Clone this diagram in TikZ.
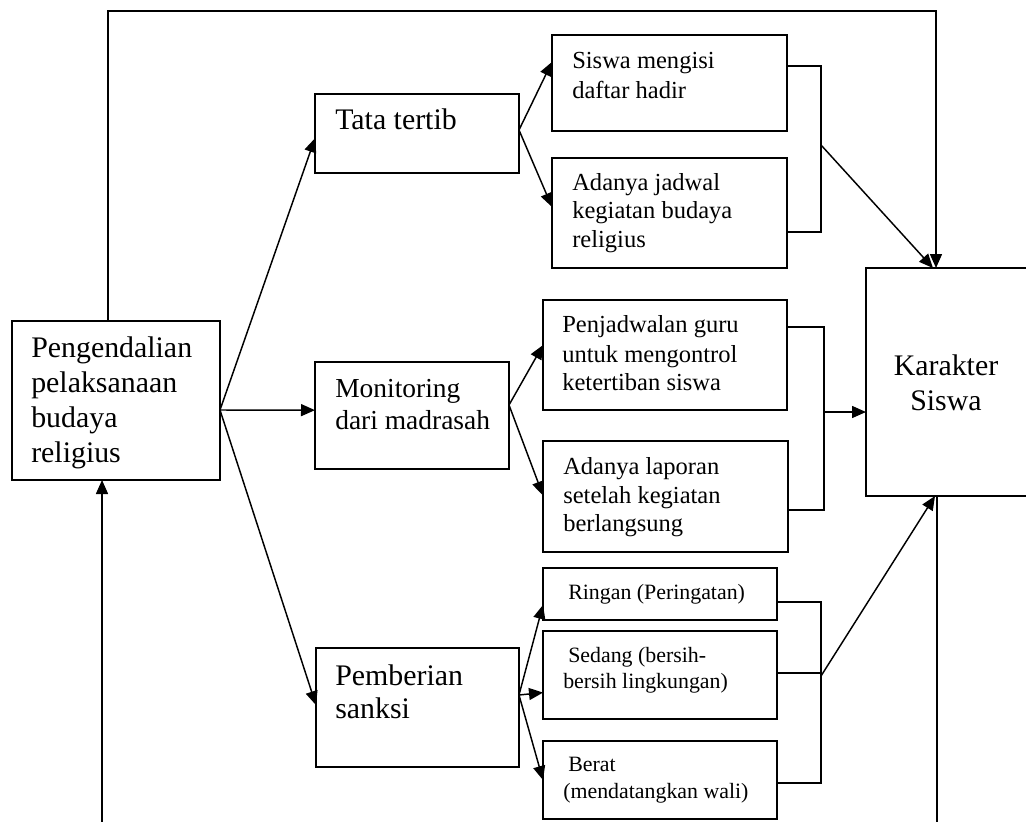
\documentclass[tikz,border=0pt]{standalone}
\usepackage{fontspec}
\setmainfont{Liberation Serif}
\usetikzlibrary{arrows.meta,calc}
\newcommand\mybox[5]{\node[box, minimum width={(#4-#2)*0.75pt}, minimum height={(#5-#3)*0.75pt}] (#1) at ({(#2+#4)/2},{(#3+#5)/2}) {};}
\begin{document}
\begin{tikzpicture}[x=0.75pt,y=-0.75pt,
 box/.style={draw, line width=1.3pt, inner sep=0, outer sep=0},
 ln/.style={line width=1.2pt},
 arr/.style={line width=1.1pt, -{Triangle[length=10.5pt,width=9pt]}},
 tb/.style={font=\fontsize{22.4}{26}\selectfont, anchor=base west, inner sep=0},
 tmid/.style={font=\fontsize{20.6}{24}\selectfont, anchor=base west, inner sep=0},
 tm/.style={font=\fontsize{18.4}{22}\selectfont, anchor=base west, inner sep=0},
 ts/.style={font=\fontsize{16.4}{20}\selectfont, anchor=base west, inner sep=0}]
\useasboundingbox (0,0) rectangle (1026,822);
% boxes
\mybox{L}{12}{321}{220}{480}
\mybox{T}{315}{94}{519}{173}
\mybox{M}{315}{362}{509}{469}
\mybox{P}{316}{648}{519}{767}
\mybox{S1}{552}{35}{787}{131}
\mybox{S2}{552}{158}{787}{268}
\mybox{Q1}{543}{300}{787}{410}
\mybox{Q2}{543}{441}{788}{552}
\mybox{R1}{543}{568}{777}{620}
\mybox{R2}{543}{631}{777}{719}
\mybox{R3}{543}{741}{777}{819}
\mybox{K}{866}{268}{1027}{496}
% texts
\node[tb] (tL1) at (31,357) {Pengendalian};
\node[tb] (tL2) at (31,392) {pelaksanaan};
\node[tb] (tL3) at (31,427) {budaya};
\node[tb] (tL4) at (31,462) {religius};
\node[tb] (tT1) at (335,129) {Tata tertib};
\node[tmid] (tM1) at (335,397) {Monitoring};
\node[tmid] (tM2) at (335,429) {dari madrasah};
\node[tb] (tP1) at (335,685) {Pemberian};
\node[tb] (tP2) at (335,718) {sanksi};
\node[tb, anchor=base] (tK1) at (946,375) {Karakter};
\node[tb, anchor=base] (tK2) at (946,410) {Siswa};
\node[tm] (tS11) at (572,68) {Siswa mengisi};
\node[tm] (tS12) at (572,98) {daftar hadir};
\node[tm] (tS21) at (572,190) {Adanya jadwal};
\node[tm] (tS22) at (572,218) {kegiatan budaya};
\node[tm] (tS23) at (572,247) {religius};
\node[tm] (tQ11) at (562,332) {Penjadwalan guru};
\node[tm] (tQ12) at (562,362) {untuk mengontrol};
\node[tm] (tQ13) at (562,390) {ketertiban siswa};
\node[tm] (tQ21) at (563,474) {Adanya laporan};
\node[tm] (tQ22) at (563,503) {setelah kegiatan};
\node[tm] (tQ23) at (563,531) {berlangsung};
\node[ts] (tR11) at (568,599) {Ringan (Peringatan)};
\node[ts] (tR21) at (568,662) {Sedang (bersih-};
\node[ts] (tR22) at (563,688) {bersih lingkungan)};
\node[ts] (tR31) at (568,771) {Berat};
\node[ts] (tR32) at (563,798) {(mendatangkan wali)};
% outer loop
\coordinate (c1) at (108,11);
\coordinate (c2) at (936,11);
\draw[arr] (L.north -| c1) -- (c1) -- (c2) -- (K.north -| c2);
\coordinate (b1) at (102,822);
\draw[arr] (b1) -- (L.south -| b1);
\coordinate (b2) at (937,822);
\draw[ln] (K.south -| b2) -- (b2);
% fan from L
\coordinate (fL) at (220,410);
\draw[arr] (fL) -- ($(T.north west)!0.56!(T.south west)$);
\draw[arr] (fL) -- ($(M.north west)!0.45!(M.south west)$);
\draw[arr] (fL) -- ($(P.north west)!0.48!(P.south west)$);
% Tata tertib group
\coordinate (fT) at (519,130);
\draw[arr] (fT) -- ($(S1.north west)!0.28!(S1.south west)$);
\draw[arr] (fT) -- ($(S2.north west)!0.445!(S2.south west)$);
\coordinate (s1e) at ($(S1.north east)!0.32!(S1.south east)$);
\coordinate (s2e) at ($(S2.north east)!0.67!(S2.south east)$);
\coordinate (xS) at (821,0);
\draw[ln] (s1e) -- (s1e -| xS) -- (s2e -| xS) -- (s2e);
\coordinate (jS) at (821,145);
\draw[arr] (jS) -- ($(K.north -| c2)+(-3,0)$);
% Monitoring group
\coordinate (fM) at (509,405);
\draw[arr] (fM) -- ($(Q1.north west)!0.41!(Q1.south west)$);
\draw[arr] (fM) -- ($(Q2.north west)!0.49!(Q2.south west)$);
\coordinate (q1e) at ($(Q1.north east)!0.245!(Q1.south east)$);
\coordinate (q2e) at ($(Q2.north east)!0.62!(Q2.south east)$);
\coordinate (xQ) at (824,0);
\draw[ln] (q1e) -- (q1e -| xQ) -- (q2e -| xQ) -- (q2e);
\coordinate (jQ) at (824,412);
\draw[arr] (jQ) -- (K.west |- jQ);
% Sanksi group
\coordinate (fP) at (519,695);
\draw[arr] (fP) -- ($(R1.north west)!0.71!(R1.south west)$);
\draw[arr] (fP) -- ($(R2.north west)!0.70!(R2.south west)$);
\draw[arr] (fP) -- ($(R3.north west)!0.5!(R3.south west)$);
\coordinate (r1e) at ($(R1.north east)!0.65!(R1.south east)$);
\coordinate (r2e) at ($(R2.north east)!0.48!(R2.south east)$);
\coordinate (r3e) at ($(R3.north east)!0.54!(R3.south east)$);
\coordinate (xR) at (821,0);
\draw[ln] (r1e) -- (r1e -| xR) -- (r3e -| xR) -- (r3e);
\draw[ln] (r2e) -- (r2e -| xR);
\coordinate (jR) at (821,676);
\draw[arr] (jR) -- ($(K.south -| b2)+(-2,0)$);
\end{tikzpicture}
\end{document}
